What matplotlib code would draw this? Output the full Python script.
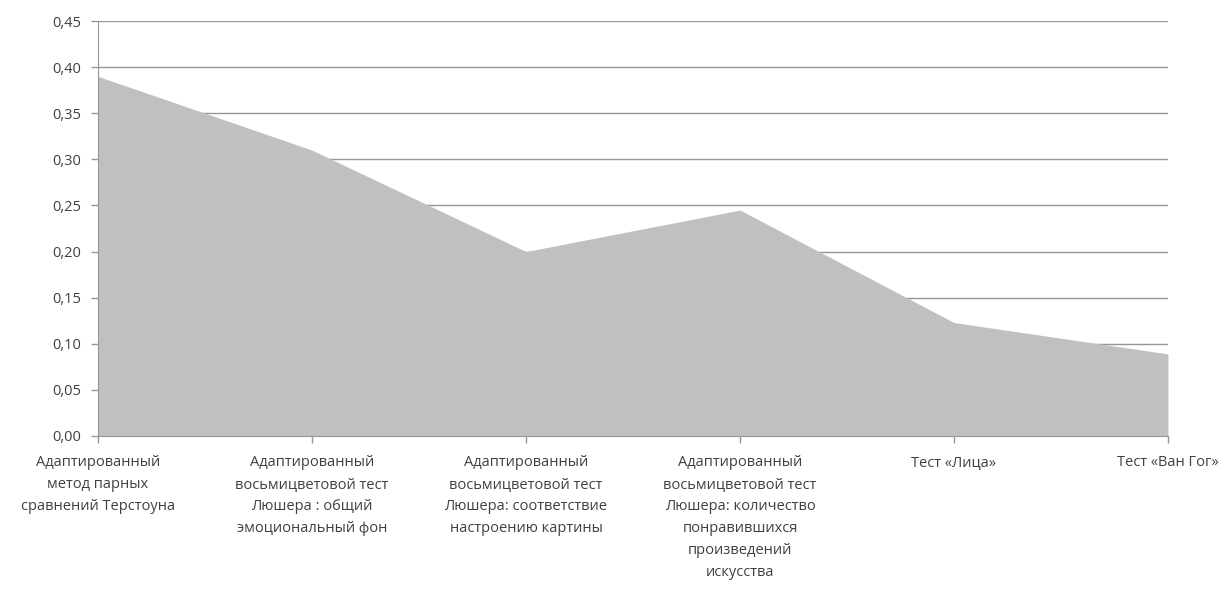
import matplotlib.pyplot as plt
from matplotlib.ticker import FuncFormatter, MultipleLocator

plt.rcParams['font.family'] = ['Open Sans', 'DejaVu Sans']

categories = [
    'Адаптированный\nметод парных\nсравнений Терстоуна',
    'Адаптированный\nвосьмицветовой тест\nЛюшера : общий\nэмоциональный фон',
    'Адаптированный\nвосьмицветовой тест\nЛюшера: соответствие\nнастроению картины',
    'Адаптированный\nвосьмицветовой тест\nЛюшера: количество\nпонравившихся\nпроизведений\nискусства',
    'Тест «Лица»',
    'Тест «Ван Гог»',
]
values = [0.39, 0.31, 0.20, 0.245, 0.123, 0.089]

fig = plt.figure(figsize=(12.24, 5.89), dpi=100)
ax = fig.add_axes([0.0801, 0.2598, 0.8741, 0.7045])

x = list(range(len(values)))
ax.fill_between(x, values, 0, color='#c0c0c0', linewidth=0, zorder=2)

ax.set_xlim(0, len(values) - 1)
ax.set_ylim(0, 0.45)
ax.yaxis.set_major_locator(MultipleLocator(0.05))
ax.yaxis.set_major_formatter(FuncFormatter(lambda v, p: f'{v:.2f}'.replace('.', ',')))
ax.grid(axis='y', color='#969696', linewidth=1, zorder=1)
ax.set_axisbelow(True)

ax.set_xticks(x)
ax.set_xticklabels(categories, linespacing=1.62)

for side in ['top', 'right']:
    ax.spines[side].set_visible(False)
for side in ['left', 'bottom']:
    ax.spines[side].set_color('#969696')
    ax.spines[side].set_zorder(3)

ax.tick_params(axis='both', colors='#969696', labelcolor='#404040',
               labelsize=10.5, length=5, width=1)
ax.tick_params(axis='y', pad=7)
ax.tick_params(axis='x', pad=9)

fig.savefig('out.png', dpi=100)
